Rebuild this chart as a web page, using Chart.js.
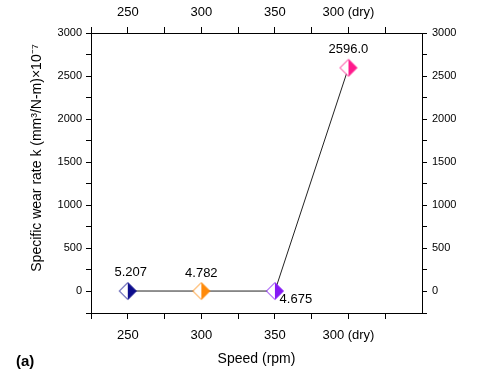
<!DOCTYPE html>
<html>
<head>
<meta charset="utf-8">
<script src="https://cdn.jsdelivr.net/npm/chart.js@4.4.0/dist/chart.umd.min.js"></script>
<style>
  body { margin: 0; background: #fff; }
  canvas { display: block; }
</style>
</head>
<body>
<canvas id="chart" width="480" height="376"></canvas>
<script>
// data
var speeds = ["250", "300", "350", "300 (dry)"];
var wearRate = [5.207, 4.782, 4.675, 2596.0];
var pointLabels = ["5.207", "4.782", "4.675", "2596.0"];
var markerColors = ["#0c0c8c", "#ff8a0a", "#8418f5", "#ff1a8c"];
var labelOffsets = [[3, -19], [0, -18], [21, 8], [0, -18]];

var fontName = "'Liberation Sans', Arial, sans-serif";
var yTitle = "Specific wear rate k (mm\u00b3/N-m)\u00d710\u207b\u2077";

// half filled diamond markers
makeMarker = function (color) {
	var c = document.createElement("canvas");
	c.width = 20;
	c.height = 20;
	var g = c.getContext("2d");
	g.fillStyle = "#fff";
	g.beginPath();
	g.moveTo(10, 1.5); g.lineTo(1.5, 10); g.lineTo(10, 18.5); g.closePath();
	g.fill();
	g.fillStyle = color;
	g.beginPath();
	g.moveTo(10, 1.5); g.lineTo(18.5, 10); g.lineTo(10, 18.5); g.closePath();
	g.fill();
	g.strokeStyle = color;
	g.lineWidth = 1;
	g.beginPath();
	g.moveTo(10, 1.5); g.lineTo(18.5, 10); g.lineTo(10, 18.5); g.lineTo(1.5, 10); g.closePath();
	g.stroke();
	return c;
};
var markers = markerColors.map(makeMarker);

var points = [];
for (var i = 0; i < wearRate.length; i++) {
	points.push({ x: i, y: wearRate[i] });
}

var labelPlugin = {
	id: "labels",
	afterDatasetsDraw: function (chart) {
		var ctx = chart.ctx;
		var meta = chart.getDatasetMeta(0);
		ctx.save();
		ctx.fillStyle = "#000";
		ctx.font = "13px " + fontName;
		ctx.textAlign = "center";
		ctx.textBaseline = "middle";
		meta.data.forEach(function (p, i) {
			ctx.fillText(pointLabels[i], p.x + labelOffsets[i][0], p.y + labelOffsets[i][1]);
		});
		// y axis title, sits a bit above the middle like the original
		ctx.save();
		ctx.translate(37, 158);
		ctx.rotate(-Math.PI / 2);
		ctx.font = "14px " + fontName;
		ctx.fillText(yTitle, 0, 0);
		ctx.restore();
		ctx.font = "bold 15px " + fontName;
		ctx.textAlign = "left";
		ctx.fillText("(a)", 16, 362);
		ctx.restore();
	}
};

var xTick = function (v) {
	return Number.isInteger(v) ? speeds[v] : "";
};
var yTick = function (v) {
	return v % 500 === 0 ? v : "";
};
var gridOpts = { drawOnChartArea: false, drawTicks: true, tickLength: 5, color: "#000", tickColor: "#000" };
var borderOpts = { display: true, color: "#000", width: 1 };

new Chart(document.getElementById("chart").getContext("2d"), {
	type: "line",
	data: {
		datasets: [
			{
				data: points,
				borderColor: "#222",
				borderWidth: 1,
				pointStyle: markers,
				pointRadius: 9,
				pointHoverRadius: 9,
				tension: 0,
			},
		],
	},
	options: {
		responsive: false,
		animation: false,
		events: [],
		layout: { padding: 0 },
		plugins: { legend: { display: false }, tooltip: { enabled: false } },
		scales: {
			x: {
				type: "linear", position: "bottom", min: -0.5, max: 4,
				ticks: { stepSize: 0.5, callback: xTick, autoSkip: false, maxRotation: 0, color: "#000", padding: 9, font: { family: fontName, size: 13 } },
				grid: Object.assign({}, gridOpts, { tickLength: 6 }),
				border: borderOpts,
				title: { display: true, text: "Speed (rpm)", color: "#000", padding: { top: 0, bottom: 8 }, font: { family: fontName, size: 14 } },
				afterFit: function (s) { s.height = 63; },
			},
			x2: {
				type: "linear", axis: "x", position: "top", min: -0.5, max: 4,
				ticks: { stepSize: 0.5, callback: xTick, autoSkip: false, maxRotation: 0, color: "#000", padding: 7, font: { family: fontName, size: 13 } },
				grid: Object.assign({}, gridOpts, { tickLength: 6 }),
				border: borderOpts,
				afterFit: function (s) { s.height = 33; },
			},
			y: {
				type: "linear", position: "left", min: -250, max: 3000,
				ticks: { stepSize: 250, callback: yTick, autoSkip: false, color: "#000", padding: 4, font: { family: fontName, size: 11 } },
				grid: gridOpts,
				border: borderOpts,
				afterFit: function (s) { s.width = 91; },
			},
			y2: {
				type: "linear", axis: "y", position: "right", min: -250, max: 3000,
				ticks: { stepSize: 250, callback: yTick, autoSkip: false, color: "#000", padding: 5, font: { family: fontName, size: 11 } },
				grid: gridOpts,
				border: borderOpts,
				afterFit: function (s) { s.width = 58; },
			},
		},
	},
	plugins: [labelPlugin],
});
</script>
</body>
</html>
